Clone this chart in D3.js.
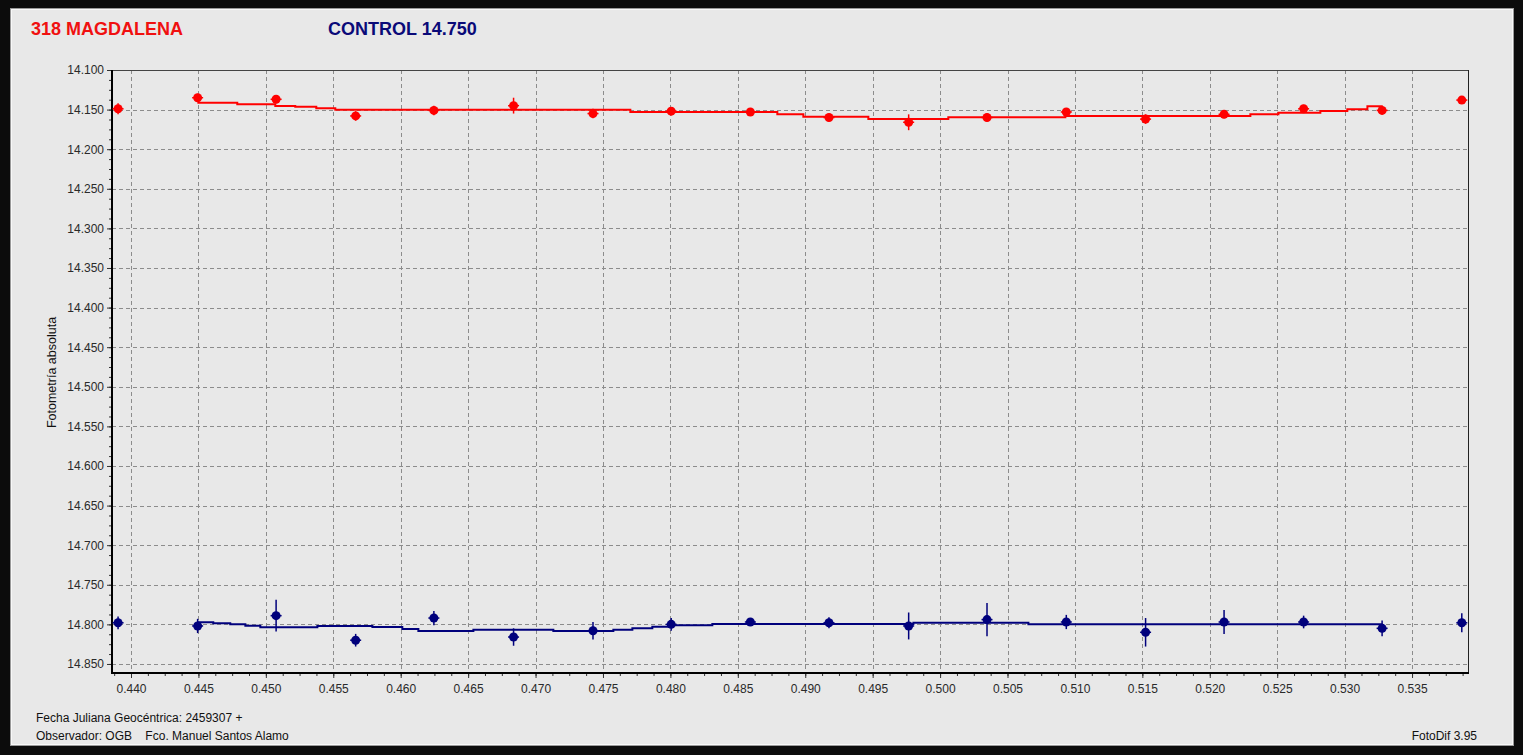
<!DOCTYPE html>
<html>
<head>
<meta charset="utf-8">
<script src="https://cdn.jsdelivr.net/npm/d3@7"></script>
<style>
  html, body { margin: 0; padding: 0; background: #0c0c0c; }
  svg { display: block; }
  text { font-family: "Liberation Sans", Arial, sans-serif; }
</style>
</head>
<body>
<svg id="chart" width="1523" height="755"></svg>
<script>
// ---- Data ----
const times = [0.43904, 0.44494, 0.45076, 0.45666, 0.46246, 0.46837, 0.47426, 0.48006, 0.48593,
               0.49176, 0.49767, 0.50348, 0.50936, 0.51524, 0.52106, 0.52696, 0.53278, 0.53869];

const asteroidMag = [14.149, 14.135, 14.137, 14.158, 14.151, 14.145, 14.155, 14.152, 14.153,
                     14.160, 14.166, 14.160, 14.153, 14.162, 14.156, 14.149, 14.151, 14.138];
const asteroidErr = [0.007, 0.005, 0.005, 0.006, 0.006, 0.010, 0.006, 0.005, 0.005,
                     0.005, 0.010, 0.005, 0.005, 0.006, 0.005, 0.005, 0.005, 0.004];

const controlMag = [14.798, 14.802, 14.789, 14.820, 14.792, 14.816, 14.808, 14.800, 14.797,
                    14.798, 14.802, 14.794, 14.797, 14.810, 14.797, 14.797, 14.805, 14.798];
const controlErr = [0.008, 0.009, 0.020, 0.008, 0.009, 0.011, 0.011, 0.008, 0.004,
                    0.007, 0.017, 0.021, 0.009, 0.018, 0.015, 0.008, 0.010, 0.012];

// smoothed (step) fit curves
const asteroidFitT = [0.44492, 0.44788, 0.45070, 0.45218, 0.45374, 0.45515, 0.47703, 0.48793, 0.48986,
                      0.49468, 0.50061, 0.50929, 0.52301, 0.52509, 0.52820, 0.53020, 0.53169, 0.53283];
const asteroidFitMag = [14.1413, 14.1433, 14.1455, 14.1463, 14.1484, 14.1501, 14.1530, 14.1559, 14.1590,
                        14.1619, 14.1597, 14.1581, 14.1559, 14.1539, 14.1518, 14.1496, 14.1458, 14.1458];

const controlFitT = [0.44494, 0.44610, 0.44736, 0.44848, 0.44959, 0.45382, 0.45790, 0.46012, 0.46131,
                     0.46539, 0.47132, 0.47577, 0.47718, 0.47866, 0.48007, 0.48311, 0.49802, 0.50655, 0.53278];
const controlFitMag = [14.7973, 14.7986, 14.7999, 14.8016, 14.8037, 14.8020, 14.8033, 14.8058, 14.8083,
                       14.8067, 14.8083, 14.8067, 14.8049, 14.8029, 14.8011, 14.7995, 14.7979, 14.7999, 14.7999];

const xTicks = [0.440, 0.445, 0.450, 0.455, 0.460, 0.465, 0.470, 0.475, 0.480, 0.485, 0.490,
                0.495, 0.500, 0.505, 0.510, 0.515, 0.520, 0.525, 0.530, 0.535];
const yTicks = [14.100, 14.150, 14.200, 14.250, 14.300, 14.350, 14.400, 14.450, 14.500, 14.550,
                14.600, 14.650, 14.700, 14.750, 14.800, 14.850];

const xDomain = [0.43859, 0.53915];
const yDomain = [14.100, 14.8614];

const titleAsteroid = "318 MAGDALENA";
const titleControl = "CONTROL 14.750";
const yLabel = "Fotometría absoluta";
const footer1 = "Fecha Juliana Geocéntrica: 2459307 +";
const footer2 = "Observador: OGB    Fco. Manuel Santos Alamo";
const footerRight = "FotoDif 3.95";

// ---- Drawing ----
const W = 1523, H = 755;
const plot = { left: 112, right: 1468, top: 70, bottom: 673 };
const RED = "#ff0000", NAVY = "#00007c";

const svg = d3.select("#chart");

svg.append("rect").attr("x", 0).attr("y", 0).attr("width", W).attr("height", H).attr("fill", "#0c0c0c");
svg.append("rect").attr("x", 10.5).attr("y", 8.5).attr("width", 1503).attr("height", 737)
  .attr("fill", "#e8e8e8").attr("stroke", "#9a9a9a").attr("stroke-width", 1);
svg.append("rect").attr("x", 11.5).attr("y", 9.5).attr("width", 1501).attr("height", 735)
  .attr("fill", "none").attr("stroke", "#f8f8f8").attr("stroke-width", 1);

const x = d3.scaleLinear().domain(xDomain).range([plot.left, plot.right]);
const y = d3.scaleLinear().domain(yDomain).range([plot.top, plot.bottom]);

// grid
const grid = svg.append("g").attr("stroke", "#8c8c8c").attr("stroke-width", 1).attr("stroke-dasharray", "4,3");
grid.selectAll("line.v").data(xTicks).join("line")
  .attr("x1", d => Math.round(x(d)) + 0.5).attr("x2", d => Math.round(x(d)) + 0.5)
  .attr("y1", plot.top).attr("y2", plot.bottom);
grid.selectAll("line.h").data(yTicks).join("line")
  .attr("y1", d => Math.round(y(d)) + 0.5).attr("y2", d => Math.round(y(d)) + 0.5)
  .attr("x1", plot.left).attr("x2", plot.right);

// minor ticks
const xMinor = d3.range(0, 100).map(i => 0.43875 + i * 0.00125).filter(v => v >= xDomain[0] && v <= xDomain[1]);
const yMinor = d3.range(0, 70).map(i => 14.100 + i * 0.0125).filter(v => v <= yDomain[1] + 1e-9);

const xAxisMinor = d3.axisBottom(x).tickValues(xMinor).tickSize(3).tickFormat("");
const xAxis = d3.axisBottom(x).tickValues(xTicks).tickSize(5).tickPadding(6).tickFormat(d3.format(".3f"));
const yAxisMinor = d3.axisLeft(y).tickValues(yMinor).tickSize(3).tickFormat("");
const yAxis = d3.axisLeft(y).tickValues(yTicks).tickSize(5).tickPadding(3).tickFormat(d3.format(".3f"));

function styleAxis(g) {
  g.select(".domain").remove();
  g.selectAll("line").attr("stroke", "#333");
  g.selectAll("text").attr("fill", "#2a2a2a").style("font-size", "12px")
    .style("font-family", "'Liberation Sans', Arial, sans-serif");
}
svg.append("g").attr("transform", `translate(0,${plot.bottom})`).call(xAxisMinor).call(styleAxis);
svg.append("g").attr("transform", `translate(0,${plot.bottom})`).call(xAxis).call(styleAxis);
svg.append("g").attr("transform", `translate(${plot.left},0)`).call(yAxisMinor).call(styleAxis);
svg.append("g").attr("transform", `translate(${plot.left},0)`).call(yAxis).call(styleAxis);

// frame
svg.append("line").attr("x1", plot.left).attr("x2", plot.right).attr("y1", plot.top + 0.5).attr("y2", plot.top + 0.5)
  .attr("stroke", "#444").attr("stroke-width", 1);
svg.append("line").attr("x1", plot.right + 0.5).attr("x2", plot.right + 0.5).attr("y1", plot.top).attr("y2", plot.bottom)
  .attr("stroke", "#222").attr("stroke-width", 1);
svg.append("line").attr("x1", plot.left).attr("x2", plot.left).attr("y1", plot.top).attr("y2", plot.bottom + 1)
  .attr("stroke", "#000").attr("stroke-width", 2);
svg.append("line").attr("x1", plot.left - 1).attr("x2", plot.right + 1).attr("y1", plot.bottom).attr("y2", plot.bottom)
  .attr("stroke", "#000").attr("stroke-width", 2);

// series
function drawSeries(mags, errs, fitT, fitM, color) {
  const line = d3.line().x(d => x(d[0])).y(d => y(d[1])).curve(d3.curveStepAfter);
  svg.append("path").datum(fitT.map((t, i) => [t, fitM[i]]))
    .attr("d", line).attr("fill", "none").attr("stroke", color).attr("stroke-width", 2);
  const pts = times.map((t, i) => ({ t, m: mags[i], e: errs[i] }));
  const g = svg.append("g");
  g.selectAll("line.err").data(pts).join("line")
    .attr("x1", d => x(d.t)).attr("x2", d => x(d.t))
    .attr("y1", d => y(d.m - d.e)).attr("y2", d => y(d.m + d.e))
    .attr("stroke", color).attr("stroke-width", 1.5);
  g.selectAll("line.hb").data(pts).join("line")
    .attr("x1", d => x(d.t) - 5.5).attr("x2", d => x(d.t) + 5.5)
    .attr("y1", d => y(d.m)).attr("y2", d => y(d.m))
    .attr("stroke", color).attr("stroke-width", 1.5);
  g.selectAll("circle").data(pts).join("circle")
    .attr("cx", d => x(d.t)).attr("cy", d => y(d.m)).attr("r", 4.5).attr("fill", color);
}
drawSeries(asteroidMag, asteroidErr, asteroidFitT, asteroidFitMag, RED);
drawSeries(controlMag, controlErr, controlFitT, controlFitMag, NAVY);

// titles
svg.append("text").attr("x", 31).attr("y", 35).attr("fill", "#f01010")
  .style("font-size", "18px").style("font-weight", "bold").text(titleAsteroid);
svg.append("text").attr("x", 328).attr("y", 35).attr("fill", "#0a0a78")
  .style("font-size", "18px").style("font-weight", "bold").text(titleControl);

// y label
svg.append("text").attr("transform", `translate(56,${(plot.top + plot.bottom) / 2 + 1}) rotate(-90)`)
  .attr("text-anchor", "middle").attr("fill", "#111").style("font-size", "12.5px").text(yLabel);

// footers
svg.append("text").attr("x", 36).attr("y", 722).attr("fill", "#111").style("font-size", "12px").text(footer1);
svg.append("text").attr("x", 36).attr("y", 740).attr("fill", "#111").style("font-size", "12px")
  .attr("xml:space", "preserve").style("white-space", "pre").text(footer2);
svg.append("text").attr("x", 1477).attr("y", 740).attr("text-anchor", "end").attr("fill", "#111")
  .style("font-size", "12px").text(footerRight);
</script>
</body>
</html>
